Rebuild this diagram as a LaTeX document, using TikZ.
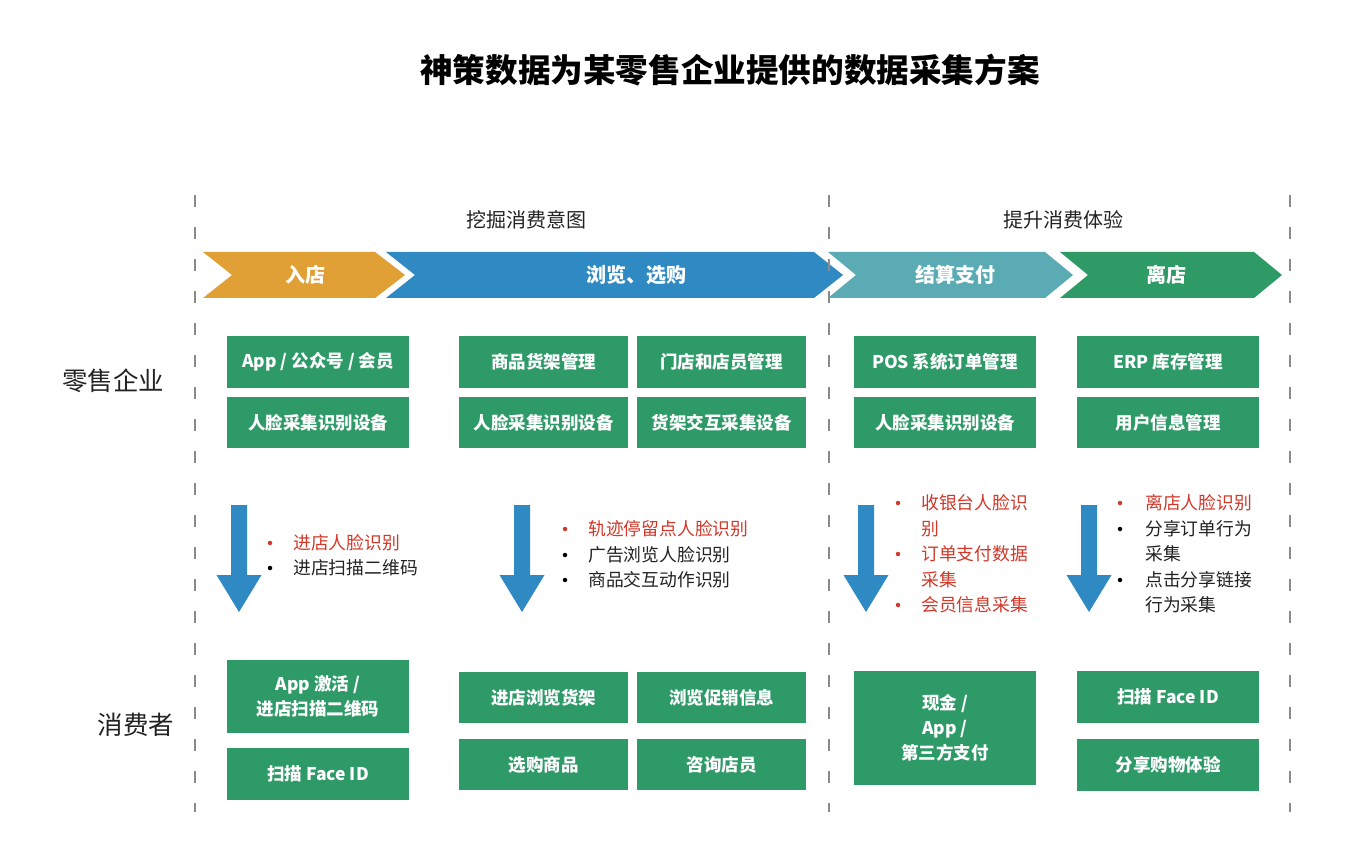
\documentclass[tikz,border=0pt]{standalone}
\usepackage{fontspec}
\setmainfont{Noto Sans CJK SC}
\usetikzlibrary{calc}
\definecolor{boxgreen}{HTML}{2E9A68}
\definecolor{chorange}{HTML}{E0A036}
\definecolor{chblue}{HTML}{2F89C3}
\definecolor{chteal}{HTML}{5AABB3}
\definecolor{chgreen}{HTML}{2E9A66}
\definecolor{txtred}{HTML}{D2382A}
\definecolor{txtdark}{HTML}{222222}
\definecolor{dashgray}{HTML}{8A8A8A}
\tikzset{
  gbox/.style={fill=boxgreen, text=white, inner sep=0pt, align=center,
    font=\bfseries\fontsize{17.5}{25}\selectfont},
  chtext/.style={text=white, font=\bfseries\fontsize{20}{24}\selectfont},
  hdr/.style={text=txtdark, font=\fontsize{20}{24}\selectfont},
  rowlab/.style={text=txtdark, font=\fontsize{25.5}{28}\selectfont},
  redline/.style={anchor=west, text=txtred, inner sep=0pt, font=\fontsize{17.8}{20}\selectfont},
  blkline/.style={anchor=west, text=txtdark, inner sep=0pt, font=\fontsize{17.8}{20}\selectfont},
  redbul/.style={circle, fill=txtred, inner sep=0pt, minimum size=4.5pt},
  blkbul/.style={circle, fill=black, inner sep=0pt, minimum size=4.5pt},
  sepline/.style={draw=dashgray, line width=2pt, dash pattern=on 12pt off 20pt},
}
\newcommand{\chevron}[5]{% color, x0, notch, xr, tip
  \fill[#1] (#2,252) -- (#4,252) -- (#5,275) -- (#4,298) -- (#2,298) -- (#3,275) -- cycle;}
\newcommand{\bluedown}[1]{%
  \fill[chblue] (#1-8,505) -- (#1+8,505) -- (#1+8,575) -- (#1+22.5,575) -- (#1,612) -- (#1-22.5,575) -- (#1-8,575) -- cycle;}
\begin{document}
\begin{tikzpicture}[x=1pt,y=-1pt]
\useasboundingbox[fill=white] (0,0) rectangle (1349,858);

% title
\node[font=\bfseries\fontsize{32.6}{36}\selectfont, text=black] (title) at (730,70) {神策数据为某零售企业提供的数据采集方案};

% headers
\node[hdr] (h1) at (526,220) {挖掘消费意图};
\node[hdr] (h2) at (1063,220) {提升消费体验};

% chevrons
\chevron{chorange}{203}{232}{375}{405}
\chevron{chblue}{386}{415}{814}{843}
\chevron{chteal}{828}{856}{1045}{1073}
\chevron{chgreen}{1060}{1088}{1254}{1282}
\node[chtext] (c1) at (305,275) {入店};
\node[chtext] (c2) at (636,275) {浏览、选购};
\node[chtext] (c3) at (955,275) {结算支付};
\node[chtext] (c4) at (1166,275) {离店};

% row labels
\node[rowlab] (r1) at (113,381) {零售企业};
\node[rowlab] (r2) at (136,725) {消费者};

% top boxes
\node[gbox, minimum width=182pt, minimum height=52pt] (t11) at (318,362) {App / 公众号 / 会员};
\node[gbox, minimum width=182pt, minimum height=51pt] (t12) at (318,422.5) {人脸采集识别设备};
\node[gbox, minimum width=169pt, minimum height=52pt] (t21) at (543.5,362) {商品货架管理};
\node[gbox, minimum width=169pt, minimum height=51pt] (t22) at (543.5,422.5) {人脸采集识别设备};
\node[gbox, minimum width=169pt, minimum height=52pt] (t31) at (721.5,362) {门店和店员管理};
\node[gbox, minimum width=169pt, minimum height=51pt] (t32) at (721.5,422.5) {货架交互采集设备};
\node[gbox, minimum width=182pt, minimum height=52pt] (t41) at (945,362) {POS 系统订单管理};
\node[gbox, minimum width=182pt, minimum height=51pt] (t42) at (945,422.5) {人脸采集识别设备};
\node[gbox, minimum width=182pt, minimum height=52pt] (t51) at (1168,362) {ERP 库存管理};
\node[gbox, minimum width=182pt, minimum height=51pt] (t52) at (1168,422.5) {用户信息管理};

% arrows
\bluedown{239}
\bluedown{522}
\bluedown{866}
\bluedown{1089}

% bullets column 1
\node[redbul] (p11) at (270,543) {};
\node[redline] (l11) at (293,543) {进店人脸识别};
\node[blkbul] (p12) at (270,568) {};
\node[blkline] (l12) at (293,568) {进店扫描二维码};

% bullets column 2
\node[redbul] (p21) at (565,529) {};
\node[redline] (l21) at (588,529) {轨迹停留点人脸识别};
\node[blkbul] (p22) at (565,555) {};
\node[blkline] (l22) at (588,555) {广告浏览人脸识别};
\node[blkbul] (p23) at (565,580) {};
\node[blkline] (l23) at (588,580) {商品交互动作识别};

% bullets column 3
\node[redbul] (p31) at (898,503) {};
\node[redline] (l31) at (921,503) {收银台人脸识};
\node[redline] (l31b) at (921,529) {别};
\node[redbul] (p32) at (898,554) {};
\node[redline] (l32) at (921,554) {订单支付数据};
\node[redline] (l32b) at (921,580) {采集};
\node[redbul] (p33) at (898,605) {};
\node[redline] (l33) at (921,605) {会员信息采集};

% bullets column 4
\node[redbul] (p41) at (1120,503) {};
\node[redline] (l41) at (1145,503) {离店人脸识别};
\node[blkbul] (p42) at (1120,529) {};
\node[blkline] (l42) at (1145,529) {分享订单行为};
\node[blkline] (l42b) at (1145,554) {采集};
\node[blkbul] (p43) at (1120,580) {};
\node[blkline] (l43) at (1145,580) {点击分享链接};
\node[blkline] (l43b) at (1145,605) {行为采集};

% bottom boxes
\node[gbox, minimum width=182pt, minimum height=73pt] (b11) at (318,696.5) {App 激活 /\\进店扫描二维码};
\node[gbox, minimum width=182pt, minimum height=52pt] (b12) at (318,774) {扫描 Face ID};
\node[gbox, minimum width=169pt, minimum height=51pt] (b21) at (543.5,697.5) {进店浏览货架};
\node[gbox, minimum width=169pt, minimum height=51pt] (b22) at (543.5,764.5) {选购商品};
\node[gbox, minimum width=169pt, minimum height=51pt] (b31) at (721.5,697.5) {浏览促销信息};
\node[gbox, minimum width=169pt, minimum height=51pt] (b32) at (721.5,764.5) {咨询店员};
\node[gbox, minimum width=182pt, minimum height=114pt] (b41) at (945,728) {现金 /\\App /\\第三方支付};
\node[gbox, minimum width=182pt, minimum height=52pt] (b51) at (1168,697) {扫描 Face ID};
\node[gbox, minimum width=182pt, minimum height=52pt] (b52) at (1168,765) {分享购物体验};

% dashed separators
\coordinate (s1a) at (195,195); \coordinate (s1b) at (195,812);
\coordinate (s2a) at (829,195); \coordinate (s2b) at (829,812);
\coordinate (s3a) at (1290,195); \coordinate (s3b) at (1290,812);
\draw[sepline] (s1a) -- (s1b);
\draw[sepline] (s2a) -- (s2b);
\draw[sepline] (s3a) -- (s3b);
\end{tikzpicture}
\end{document}
